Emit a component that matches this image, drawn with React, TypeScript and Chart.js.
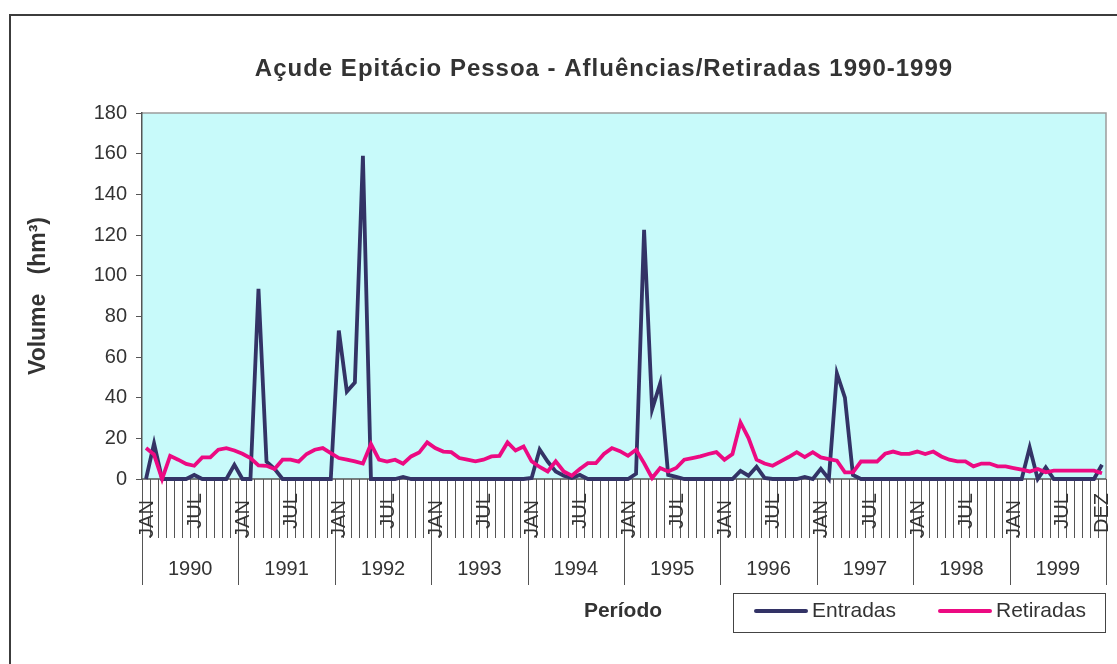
import React, { useEffect, useRef } from "react";
import { Chart, registerables } from "chart.js";

Chart.register(...registerables);

const years = ["1990", "1991", "1992", "1993", "1994", "1995", "1996", "1997", "1998", "1999"];
const months = ["JAN", "FEV", "MAR", "ABR", "MAI", "JUN", "JUL", "AGO", "SET", "OUT", "NOV", "DEZ"];
const shownMonths = ["JAN", "JUL"];
const labels = years.flatMap((y) => months.map((m) => `${m} ${y}`));

const entradas = [
  0, 17.5, 0, 0, 0, 0, 2, 0, 0, 0, 0, 7,
  0, 0, 93.5, 8.5, 5, 0, 0, 0, 0, 0, 0, 0,
  73, 43, 47.5, 159, 0, 0, 0, 0, 1, 0, 0, 0,
  0, 0, 0, 0, 0, 0, 0, 0, 0, 0, 0, 0,
  0.5, 14.5, 8.6, 3.7, 1.6, 0.5, 2, 0, 0, 0, 0, 0,
  0, 2.6, 122.5, 34.3, 47, 2, 1, 0, 0, 0, 0, 0,
  0, 0, 4, 1.6, 6, 0.5, 0, 0, 0, 0, 1, 0,
  5, 0, 52, 40, 2, 0, 0, 0, 0, 0, 0, 0,
  0, 0, 0, 0, 0, 0, 0, 0, 0, 0, 0, 0,
  0, 0, 15.5, 0, 5.7, 0, 0, 0, 0, 0, 0, 7,
];

const retiradas = [
  15.2, 12, 0, 11.4, 9.5, 7.4, 6.5, 10.6, 10.6, 14.4, 15.2, 14,
  12.4, 10.3, 6.7, 6.5, 4.9, 9.5, 9.5, 8.5, 12.3, 14.4, 15.2, 12.7,
  10.3, 9.5, 8.7, 7.6, 17.2, 9.5, 8.6, 9.5, 7.5, 11.1, 13, 18,
  15.2, 13.5, 13.2, 10.3, 9.5, 8.7, 9.5, 11.1, 11.4, 18, 14, 16,
  8.7, 5.9, 3.7, 8.7, 3.7, 1.6, 4.9, 7.8, 7.8, 12.3, 15.2, 13.7,
  11.4, 14.4, 7.8, 0.5, 5.4, 3.7, 5.4, 9.5, 10.3, 11.1, 12.3, 13.2,
  9.5, 12.3, 27.8, 20.1, 9.5, 7.6, 6.5, 8.7, 10.8, 13.2, 10.8, 13.2,
  10.6, 9.8, 9, 3.3, 3.3, 8.6, 8.6, 8.6, 12.4, 13.5, 12.4, 12.4,
  13.5, 12.3, 13.5, 11.1, 9.5, 8.7, 8.7, 6.2, 7.6, 7.6, 6.2, 6.2,
  5.4, 4.6, 3.7, 4.9, 3.3, 4.1, 4.1, 4.1, 4.1, 4.1, 4.1, 2.8,
];

const yMin = 0;
const yMax = 180;
const yStep = 20;

const titleText = "Açude Epitácio Pessoa - Afluências/Retiradas 1990-1999";
const yTitleText = "Volume   (hm³)";
const xTitleText = "Período";

const FONT = "'Liberation Sans', Arial, sans-serif";
const TEXT = "#333333";
const NAVY = "#333366";
const PINK = "#EC0A82";

const decorPlugin = {
  id: "decor",
  beforeDraw(chart: any) {
    const { ctx, chartArea: a } = chart;
    ctx.save();
    ctx.fillStyle = "#ffffff";
    ctx.fillRect(0, 0, chart.width, chart.height);
    // outer frame
    ctx.strokeStyle = "#3c3c3c";
    ctx.lineWidth = 2;
    ctx.beginPath();
    ctx.moveTo(10, chart.height + 5);
    ctx.lineTo(10, 15);
    ctx.lineTo(chart.width + 5, 15);
    ctx.stroke();
    // plot background
    ctx.fillStyle = "#C8FAFA";
    ctx.fillRect(a.left, a.top, a.right - a.left, a.bottom - a.top);
    // top and right border
    ctx.strokeStyle = "#9c9c9c";
    ctx.lineWidth = 1.5;
    ctx.beginPath();
    ctx.moveTo(a.left, a.top);
    ctx.lineTo(a.right, a.top);
    ctx.lineTo(a.right, a.bottom);
    ctx.stroke();
    // title
    ctx.fillStyle = TEXT;
    ctx.font = `bold 24px ${FONT}`;
    (ctx as any).letterSpacing = "1px";
    ctx.textAlign = "center";
    ctx.textBaseline = "alphabetic";
    ctx.fillText(titleText, 604, 76);
    (ctx as any).letterSpacing = "0px";
    // y title
    ctx.save();
    ctx.translate(45, (a.top + a.bottom) / 2);
    ctx.rotate(-Math.PI / 2);
    ctx.font = `bold 23px ${FONT}`;
    ctx.textAlign = "center";
    ctx.textBaseline = "alphabetic";
    ctx.fillText(yTitleText, 0, 0);
    ctx.restore();
    ctx.restore();
  },
  beforeDatasetsDraw(chart: any) {
    const { ctx, chartArea: a } = chart;
    const xs = chart.scales.x;
    const n = labels.length;
    const w = xs.getPixelForValue(1) - xs.getPixelForValue(0);
    const bound = (k: number) => xs.getPixelForValue(k) - w / 2;
    ctx.save();
    // bottom axis line
    ctx.strokeStyle = "#555555";
    ctx.lineWidth = 1.5;
    ctx.beginPath();
    ctx.moveTo(a.left, a.bottom);
    ctx.lineTo(a.right, a.bottom);
    ctx.stroke();
    // month separators
    ctx.lineWidth = 1;
    ctx.strokeStyle = "#555555";
    for (let k = 0; k <= n; k++) {
      const x = Math.round(bound(k)) + 0.5;
      const isYear = k % 12 === 0;
      ctx.beginPath();
      ctx.moveTo(x, a.bottom);
      ctx.lineTo(x, isYear ? a.bottom + 106 : a.bottom + 59);
      ctx.stroke();
    }
    // month labels
    ctx.fillStyle = TEXT;
    ctx.font = `20px ${FONT}`;
    ctx.textAlign = "center";
    ctx.textBaseline = "middle";
    for (let i = 0; i < n; i++) {
      const m = months[i % 12];
      let txt = "";
      if (shownMonths.includes(m)) txt = m;
      if (i === n - 1) txt = m;
      if (!txt) continue;
      const cy = m === "JAN" ? a.bottom + 40 : m === "JUL" ? a.bottom + 32 : a.bottom + 34;
      ctx.save();
      ctx.translate(xs.getPixelForValue(i) + 1, cy);
      ctx.rotate(-Math.PI / 2);
      ctx.fillText(txt, 0, 0);
      ctx.restore();
    }
    // year labels
    ctx.font = `20px ${FONT}`;
    ctx.textBaseline = "middle";
    years.forEach((y, k) => {
      const cx = (bound(k * 12) + bound(k * 12 + 12)) / 2;
      ctx.fillText(y, cx, a.bottom + 90);
    });
    // x title
    ctx.font = `bold 21px ${FONT}`;
    ctx.textBaseline = "alphabetic";
    ctx.fillText(xTitleText, 623, 617);
    // legend
    ctx.strokeStyle = "#444444";
    ctx.lineWidth = 1;
    ctx.strokeRect(733.5, 593.5, 372, 39);
    const items = chart.data.datasets;
    const lx = [756, 940];
    items.forEach((ds: any, j: number) => {
      ctx.strokeStyle = ds.borderColor;
      ctx.lineWidth = 4;
      ctx.lineCap = "round";
      ctx.beginPath();
      ctx.moveTo(lx[j], 611);
      ctx.lineTo(lx[j] + 50, 611);
      ctx.stroke();
      ctx.fillStyle = TEXT;
      ctx.font = `21px ${FONT}`;
      ctx.textAlign = "left";
      ctx.textBaseline = "alphabetic";
      ctx.fillText(ds.label, lx[j] + 56, 617);
    });
    ctx.restore();
  },
};

export default function App() {
  const ref = useRef<HTMLCanvasElement | null>(null);
  useEffect(() => {
    if (!ref.current) return;
    const chart = new Chart(ref.current, {
      type: "line",
      data: {
        labels,
        datasets: [
          {
            label: "Entradas",
            data: entradas,
            borderColor: NAVY,
            backgroundColor: NAVY,
            borderWidth: 3.8,
            pointRadius: 0,
            tension: 0,
            clip: false as any,
            order: 2,
          },
          {
            label: "Retiradas",
            data: retiradas,
            borderColor: PINK,
            backgroundColor: PINK,
            borderWidth: 3.8,
            pointRadius: 0,
            tension: 0,
            clip: false as any,
            order: 1,
          },
        ],
      },
      options: {
        animation: false,
        responsive: false,
        devicePixelRatio: 1,
        layout: { padding: { left: 0, top: 113, right: 11, bottom: 185 } },
        plugins: {
          legend: { display: false },
          title: { display: false },
          tooltip: { enabled: false },
        },
        scales: {
          x: {
            type: "category",
            offset: true,
            display: false,
          },
          y: {
            min: yMin,
            max: yMax,
            afterFit: (s: any) => {
              s.width = 142;
            },
            ticks: {
              stepSize: yStep,
              color: TEXT,
              font: { family: FONT, size: 20 },
              padding: 9,
            },
            grid: {
              drawOnChartArea: false,
              tickLength: 6,
              color: "#555555",
            },
            border: { color: "#555555", width: 1.5 },
          },
        },
      },
      plugins: [decorPlugin],
    });
    return () => chart.destroy();
  }, []);
  return (
    <div style={{ position: "absolute", left: 0, top: 0, width: 1117, height: 664 }}>
      <canvas ref={ref} width={1117} height={664} style={{ width: 1117, height: 664 }} />
    </div>
  );
}
